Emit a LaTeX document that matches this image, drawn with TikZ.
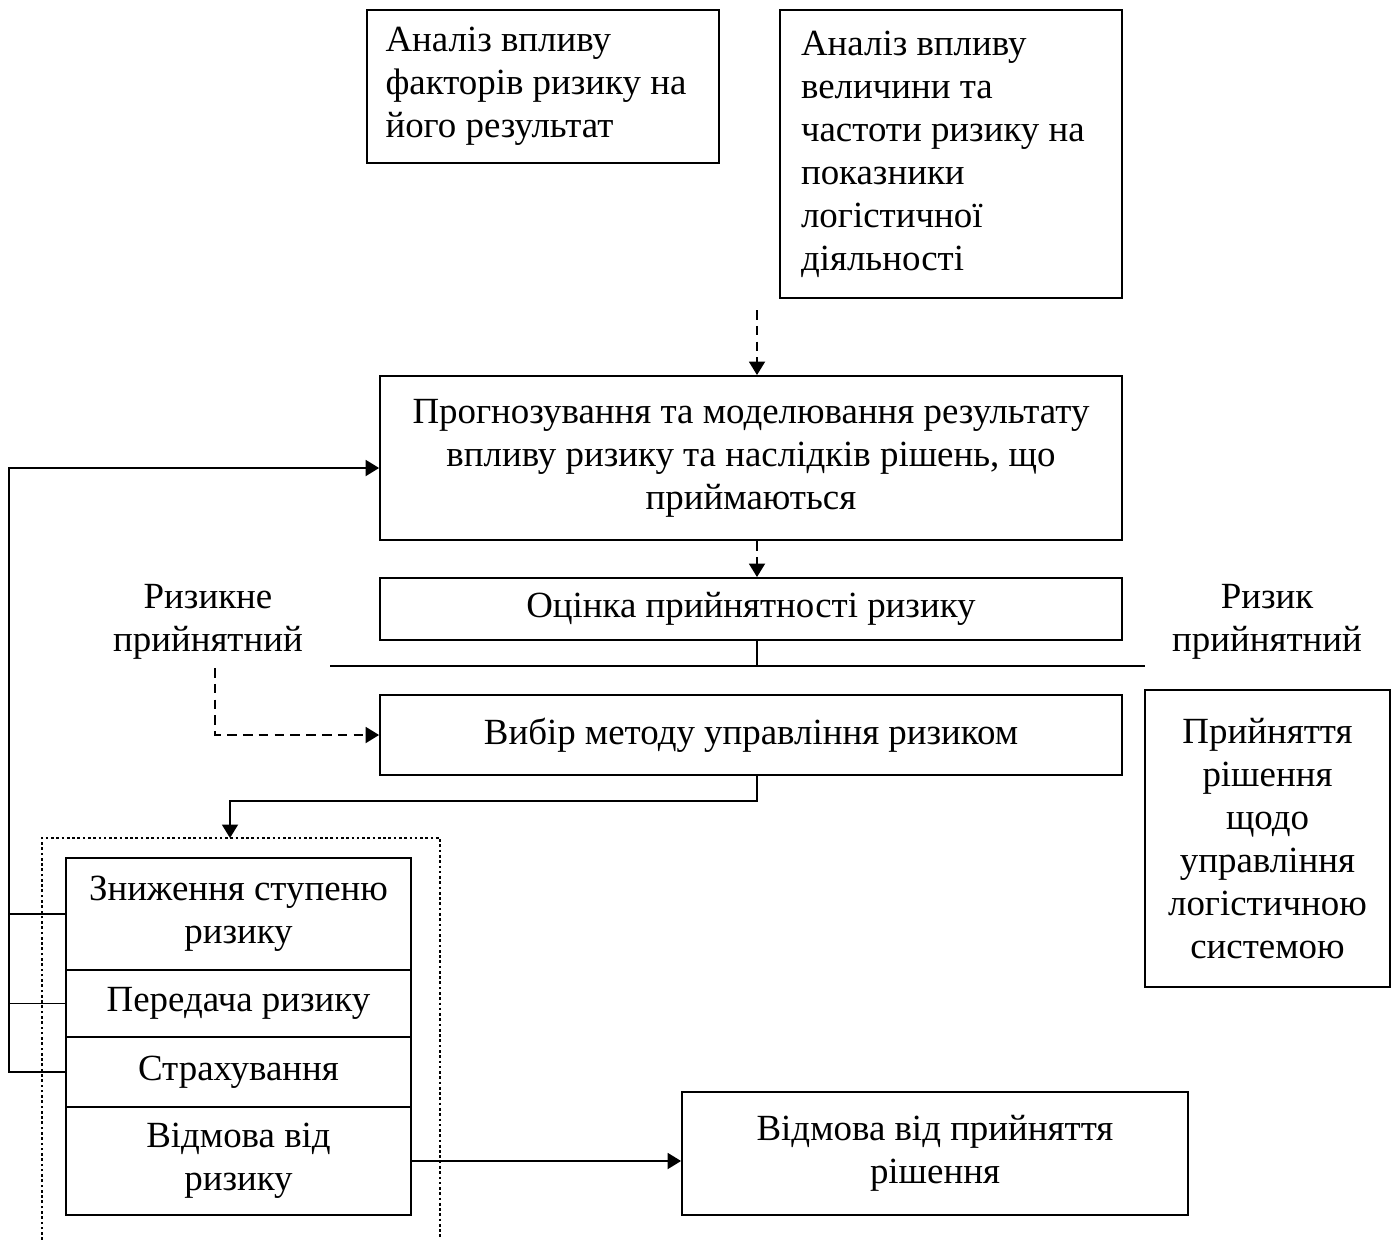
\documentclass[tikz,border=0pt]{standalone}
\usepackage{fontspec}
\setmainfont{Liberation Serif}
\usetikzlibrary{arrows.meta}

\begin{document}
\begin{tikzpicture}[x=0.02cm,y=-0.02cm,
  font=\fontsize{21}{24.5}\selectfont,
  box/.style={draw,line width=1.1pt,align=center,inner sep=2pt},
  note/.style={align=center,inner sep=0pt},
  arr/.style={line width=1.1pt,-{Triangle[length=0.27cm,width=0.32cm]}},
  dasharr/.style={arr,dash pattern=on 5.5pt off 3.5pt}]

\useasboundingbox (0,0) rectangle (1396,1240);

%% top boxes
\node[box,align=flush left,text width=6.3cm,inner xsep=0.37cm,minimum height=3.06cm] (fact) at (543,86.5) {Аналіз впливу\\факторів ризику на\\його результат};
\node[box,align=flush left,text width=6cm,inner xsep=0.42cm,minimum height=5.76cm] (freq) at (951,154) {Аналіз впливу\\величини та\\частоти ризику на\\показники\\логістичної\\діяльності};

%% main column
\node[box,minimum width=14.84cm,minimum height=3.28cm] (prog) at (751,458) {Прогнозування та моделювання результату\\впливу ризику та наслідків рішень, що\\приймаються};
\node[box,minimum width=14.84cm,minimum height=1.24cm] (est) at (751,609) {Оцінка прийнятності ризику};
\node[box,minimum width=14.84cm,minimum height=1.6cm] (meth) at (751,735) {Вибір методу управління ризиком};

%% outcomes
\node[note] (nacc) at (208,622) {Ризикне\\прийнятний};
\node[note] (acc) at (1267,622) {Ризик\\прийнятний};
\node[box,minimum width=4.9cm,minimum height=5.94cm] (dec) at (1267.5,838.5) {Прийняття\\рішення\\щодо\\управління\\логістичною\\системою};

%% methods
\node[box,minimum width=6.9cm,minimum height=2.24cm] (red) at (238.5,914) {Зниження ступеню\\ризику};
\node[box,minimum width=6.9cm,minimum height=1.34cm] (trans) at (238.5,1003.5) {Передача ризику};
\node[box,minimum width=6.9cm,minimum height=1.4cm] (ins) at (238.5,1072) {Страхування};
\node[box,minimum width=6.9cm,minimum height=2.16cm] (refuse) at (238.5,1161) {Відмова від\\ризику};
\node[box,minimum width=10.12cm,minimum height=2.46cm] (rej) at (935,1153.5) {Відмова від прийняття\\рішення};

%% frame round the methods
\draw[line width=0.6pt,dash pattern=on 1.5pt off 1.5pt] (42,1240) -- (42,838) -- (440,838) -- (440,1240);

%% helper points
\coordinate (mid) at (757,310);
\coordinate (splitl) at (330,666);
\coordinate (splitr) at (1145,666);
\coordinate (back) at (9,468);
\coordinate (alt) at (215,668);
\coordinate (frametop) at (230,838);

%% connectors
\draw[dasharr] (mid) -- (mid |- prog.north);
\draw[dasharr] (mid |- prog.south) -- (mid |- est.north);
\draw[line width=0.6pt] (mid |- est.south) -- (mid |- splitl);
\draw[line width=0.9pt] (splitl) -- (splitr);
\draw[dasharr] (alt) |- (meth.west);
\draw[arr] (mid |- meth.south) -- ++(0,25) -| (frametop);

% feedback
\draw[arr] (ins.west) -- (ins.west -| back) -- (back) -- (back -| prog.west);
\draw[line width=1.1pt] (red.west) -- (red.west -| back);
\draw[line width=1.1pt] (trans.west) -- (trans.west -| back);

\draw[arr] (refuse.east) -- (refuse.east -| rej.west);

\end{tikzpicture}
\end{document}
